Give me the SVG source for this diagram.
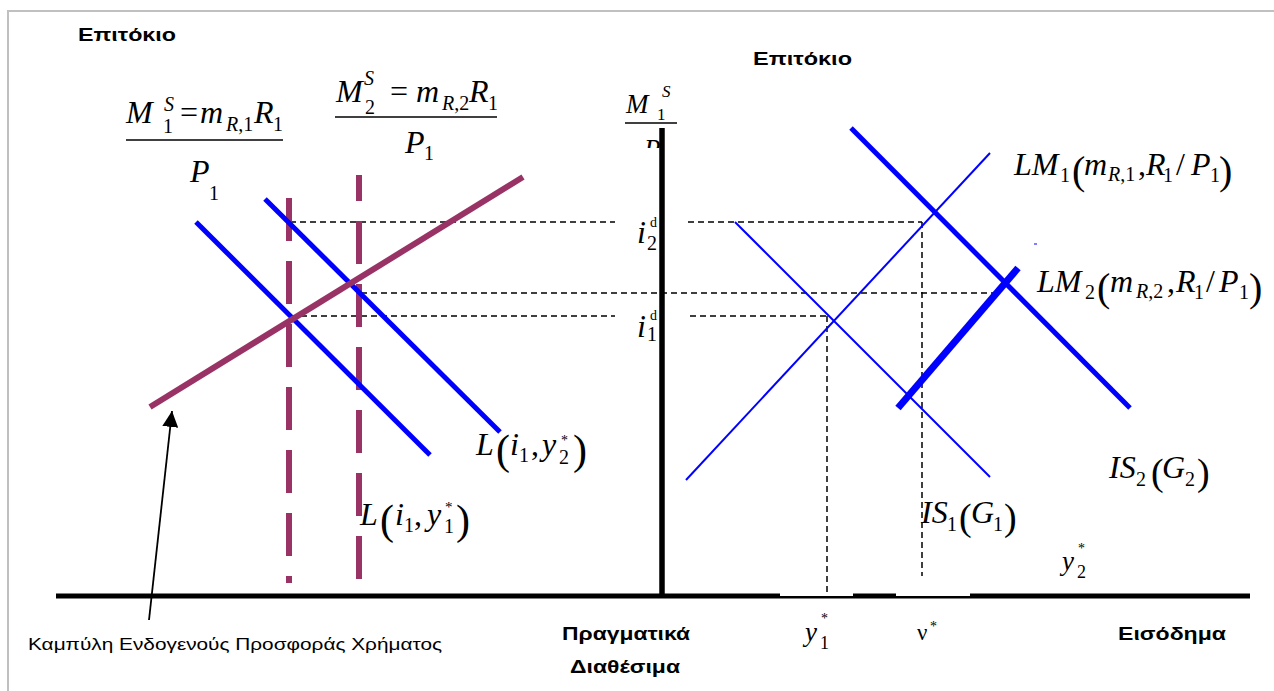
<svg xmlns="http://www.w3.org/2000/svg" width="1274" height="691" viewBox="0 0 1274 691">
<defs>
<style>
.m{font-family:"Liberation Serif","Times New Roman",serif;font-style:italic;font-size:32px;fill:#000}
.u{font-style:normal}
.s{font-size:20px}
.p{font-style:normal;font-size:40px}
.b{font-family:"Liberation Sans",Arial,sans-serif;font-weight:bold;font-size:18px;fill:#000}
.r{font-family:"Liberation Sans",Arial,sans-serif;font-size:17px;fill:#000}
.blue{stroke:#0000ff;fill:none}
.pur{stroke:#993366;fill:none;stroke-width:6}
.dash{stroke:#000;stroke-width:1.5;stroke-dasharray:6 4;fill:none}
</style>
<marker id="ah" viewBox="0 0 10 10" refX="10" refY="5" markerWidth="16" markerHeight="16" markerUnits="userSpaceOnUse" orient="auto">
<path d="M0,0 L10,5 L0,10 z" fill="#000"/>
</marker>
<clipPath id="pclip"><rect x="630" y="125" width="40" height="23"/></clipPath>
</defs>
<rect x="0" y="0" width="1274" height="691" fill="#fff"/>
<path d="M8,691 V11 H1274" stroke="#c0c0c0" stroke-width="2" fill="none"/>

<g id="axes">
<line x1="56" y1="596" x2="1250" y2="596" stroke="#000" stroke-width="5"/>
<rect x="780" y="591" width="73" height="5" fill="#fff"/>
<rect x="896" y="591" width="74" height="5" fill="#fff"/>
<line x1="662" y1="128" x2="662" y2="597" stroke="#000" stroke-width="5.5"/>
</g>

<g id="connectors">
<line class="dash" x1="290" y1="222" x2="615" y2="222"/>
<line class="dash" x1="688" y1="222" x2="922" y2="222"/>
<line class="dash" x1="922" y1="222" x2="922" y2="576"/>
<line class="dash" x1="361" y1="293" x2="1000" y2="293"/>
<line class="dash" x1="291" y1="316" x2="615" y2="316"/>
<line class="dash" x1="690" y1="316" x2="827" y2="316"/>
<line class="dash" x1="827" y1="316" x2="827" y2="594"/>
<line x1="149" y1="620" x2="172" y2="411" stroke="#000" stroke-width="1.8" marker-end="url(#ah)"/>
</g>

<g id="money-supply-lines">
<line class="pur" x1="289" y1="195" x2="289" y2="583" stroke-dasharray="43 20" stroke-dashoffset="-3"/>
<line class="pur" x1="359" y1="175" x2="359" y2="583" stroke-dasharray="43 20" stroke-dashoffset="17"/>
</g>

<g id="liquidity-curves">
<line class="blue" x1="196" y1="222" x2="430" y2="455" stroke-width="5"/>
<line class="blue" x1="265" y1="199" x2="500" y2="432" stroke-width="5"/>
</g>

<g id="endogenous-curve">
<line class="pur" x1="150" y1="407" x2="523" y2="177"/>
</g>

<g id="is-lm">
<line class="blue" x1="686" y1="480" x2="990" y2="153" stroke-width="2"/>
<line class="blue" x1="735" y1="222" x2="990" y2="477" stroke-width="2"/>
<line class="blue" x1="898" y1="408" x2="1018" y2="268" stroke-width="7"/>
<line class="blue" x1="851" y1="128" x2="1130" y2="408" stroke-width="5"/>
<line class="blue" x1="1034" y1="244" x2="1037" y2="244" stroke-width="1"/>
</g>

<g id="frac1">
<text class="m" y="123"><tspan x="126">M</tspan><tspan x="164" y="111" class="s">S</tspan><tspan x="163" y="133" class="s u">1</tspan><tspan x="180" y="123" class="u">=</tspan><tspan x="200" y="123">m</tspan><tspan x="226" y="131" class="s">R</tspan><tspan class="s u">,1</tspan><tspan x="254" y="123">R</tspan><tspan x="273" y="131" class="s u">1</tspan></text>
<line x1="126" y1="140" x2="283" y2="140" stroke="#000" stroke-width="1.5"/>
<text class="m" y="182"><tspan x="190">P</tspan><tspan x="209" y="200" class="s u">1</tspan></text>
</g>

<g id="frac2">
<text class="m" y="102"><tspan x="336">M</tspan><tspan x="364" y="85" class="s">S</tspan><tspan x="365" y="114" class="s u">2</tspan><tspan x="390" y="102" class="u">=</tspan><tspan x="416" y="102">m</tspan><tspan x="442" y="110" class="s">R</tspan><tspan class="s u">,2</tspan><tspan x="469" y="102">R</tspan><tspan x="488" y="110" class="s u">1</tspan></text>
<line x1="335" y1="117" x2="497" y2="117" stroke="#000" stroke-width="1.5"/>
<text class="m" y="153"><tspan x="405">P</tspan><tspan x="424" y="160" class="s u">1</tspan></text>
</g>

<g id="frac3">
<text class="m" y="113" style="font-size:27px"><tspan x="626">M</tspan><tspan x="662" y="97" style="font-size:17px">S</tspan><tspan x="657" y="120" class="u" style="font-size:17px">1</tspan></text>
<line x1="625" y1="123" x2="677" y2="123" stroke="#000" stroke-width="1.5"/>
<text class="m" x="644" y="158" style="font-size:27px" clip-path="url(#pclip)">P</text>
</g>

<g id="i-labels">
<text class="m" y="243"><tspan x="637">i</tspan><tspan x="647" y="250" class="s u">2</tspan><tspan x="650" y="227" class="u" style="font-size:14px">d</tspan></text>
<text class="m" y="337"><tspan x="637">i</tspan><tspan x="647" y="341" class="s u">1</tspan><tspan x="650" y="320" class="u" style="font-size:14px">d</tspan></text>
</g>

<g id="lm1-label">
<text class="m" y="175"><tspan x="1014">LM</tspan><tspan x="1060" y="182" class="s u">1</tspan><tspan x="1072" y="184" class="p">(</tspan><tspan x="1084" y="175">m</tspan><tspan x="1108" y="181" class="s">R</tspan><tspan class="s u">,1</tspan><tspan x="1138" y="175" class="u">,</tspan><tspan x="1146" y="175">R</tspan><tspan x="1163" y="182" class="s u">1</tspan><tspan x="1176" y="175" class="u">/</tspan><tspan x="1191" y="175">P</tspan><tspan x="1210" y="182" class="s u">1</tspan><tspan x="1219" y="184" class="p">)</tspan></text>
</g>

<g id="lm2-label">
<text class="m" y="292"><tspan x="1037">LM</tspan><tspan x="1085" y="299" class="s u">2</tspan><tspan x="1097" y="301" class="p">(</tspan><tspan x="1110" y="292">m</tspan><tspan x="1136" y="298" class="s">R</tspan><tspan class="s u">,2</tspan><tspan x="1167" y="292" class="u">,</tspan><tspan x="1176" y="292">R</tspan><tspan x="1194" y="299" class="s u">1</tspan><tspan x="1206" y="292" class="u">/</tspan><tspan x="1219" y="292">P</tspan><tspan x="1239" y="299" class="s u">1</tspan><tspan x="1249" y="301" class="p">)</tspan></text>
</g>

<g id="l2-label">
<text class="m" y="455"><tspan x="476">L</tspan><tspan x="496" y="464" class="p" style="font-size:42px">(</tspan><tspan x="510" y="455">i</tspan><tspan x="519" y="462" class="s u">1</tspan><tspan x="531" y="455" class="u">,</tspan><tspan x="542" y="455">y</tspan><tspan x="561" y="445" class="u" style="font-size:14px">*</tspan><tspan x="559" y="464" class="s u">2</tspan><tspan x="573" y="464" class="p" style="font-size:42px">)</tspan></text>
</g>

<g id="l1-label">
<text class="m" y="525"><tspan x="360">L</tspan><tspan x="380" y="534" class="p" style="font-size:42px">(</tspan><tspan x="395" y="525">i</tspan><tspan x="404" y="532" class="s u">1</tspan><tspan x="414" y="525" class="u">,</tspan><tspan x="427" y="525">y</tspan><tspan x="445" y="512" class="u" style="font-size:15px">*</tspan><tspan x="444" y="533" class="s u">1</tspan><tspan x="456" y="534" class="p" style="font-size:42px">)</tspan></text>
</g>

<g id="is2-label">
<text class="m" y="478"><tspan x="1109">IS</tspan><tspan x="1136" y="486" class="s u">2</tspan><tspan x="1151" y="485" class="p" style="font-size:38px">(</tspan><tspan x="1162" y="478">G</tspan><tspan x="1185" y="486" class="s u">2</tspan><tspan x="1197" y="485" class="p" style="font-size:38px">)</tspan></text>
</g>

<g id="is1-label">
<text class="m" y="523"><tspan x="921">IS</tspan><tspan x="947" y="531" class="s u">1</tspan><tspan x="959" y="530" class="p" style="font-size:38px">(</tspan><tspan x="971" y="523">G</tspan><tspan x="993" y="531" class="s u">1</tspan><tspan x="1004" y="530" class="p" style="font-size:38px">)</tspan></text>
</g>

<g id="y-labels">
<text class="m" y="570" style="font-size:27px"><tspan x="1062">y</tspan><tspan x="1078" y="553" class="u" style="font-size:14px">*</tspan><tspan x="1077" y="578" class="u" style="font-size:18px">2</tspan></text>
<text class="m" y="641" style="font-size:27px"><tspan x="805">y</tspan><tspan x="821" y="623" class="u" style="font-size:14px">*</tspan><tspan x="820" y="649" class="u" style="font-size:18px">1</tspan></text>
<text class="m" y="640" style="font-size:23px"><tspan x="917" class="u">ν</tspan><tspan x="930" y="631" class="u" style="font-size:14px">*</tspan></text>
</g>

<g id="axis-labels">
<text class="b" x="78" y="41" textLength="98" lengthAdjust="spacingAndGlyphs">Επιτόκιο</text>
<text class="b" x="753" y="65" textLength="99" lengthAdjust="spacingAndGlyphs">Επιτόκιο</text>
<text class="b" x="562" y="640" textLength="128" lengthAdjust="spacingAndGlyphs">Πραγματικά</text>
<text class="b" x="570" y="673" textLength="110" lengthAdjust="spacingAndGlyphs">Διαθέσιμα</text>
<text class="b" x="1118" y="640" textLength="108" lengthAdjust="spacingAndGlyphs">Εισόδημα</text>
<text class="r" x="28" y="650" textLength="414" lengthAdjust="spacingAndGlyphs">Καμπύλη Ενδογενούς Προσφοράς Χρήματος</text>
</g>
</svg>
